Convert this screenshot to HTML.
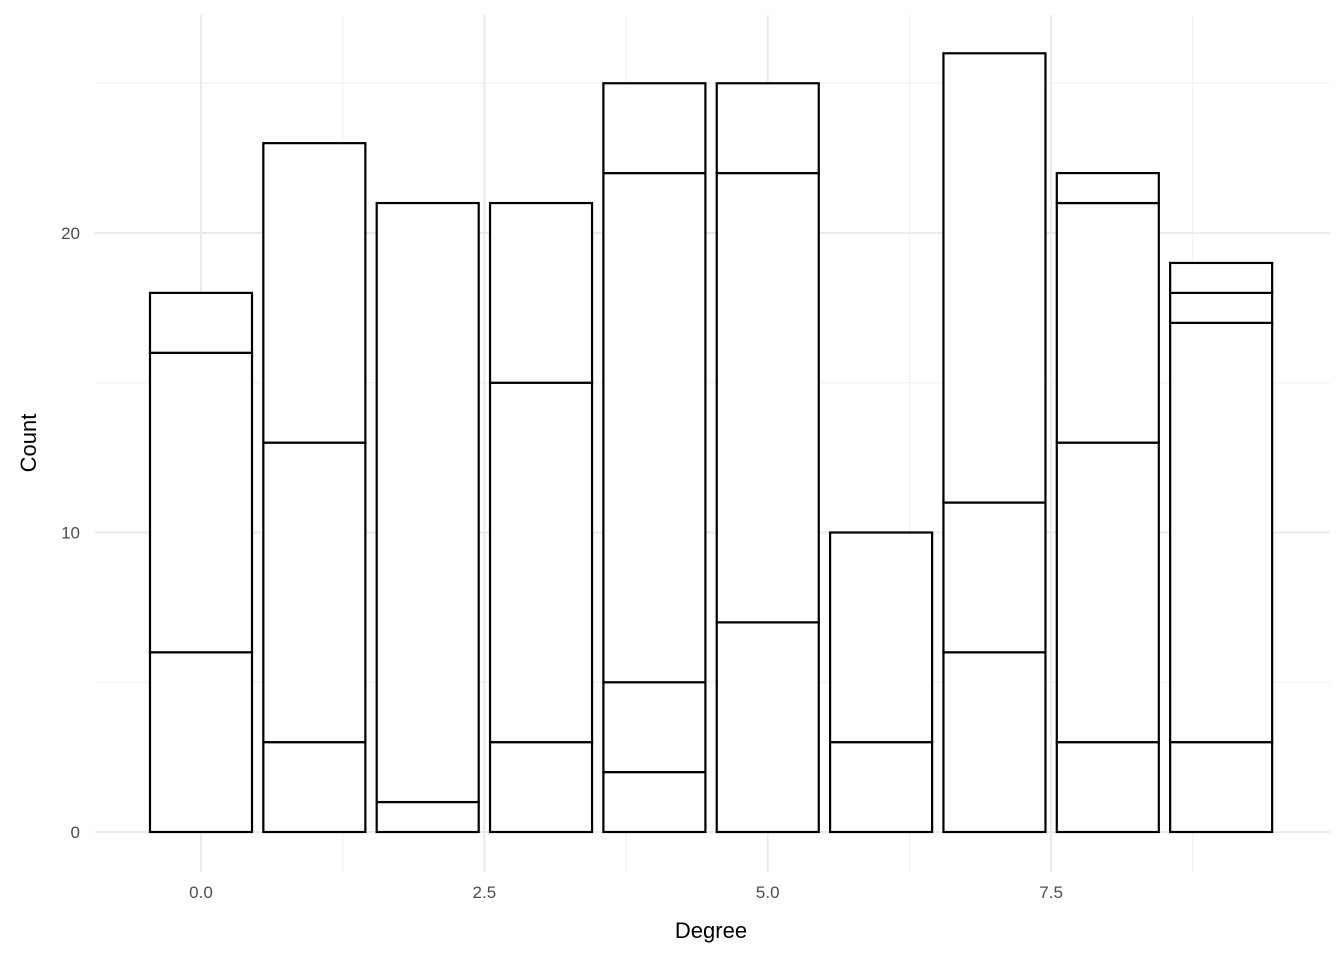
<!DOCTYPE html>
<html><head><meta charset="utf-8"><style>
body{margin:0;background:#fff}
svg{display:block;font-family:"Liberation Sans","DejaVu Sans",sans-serif}
</style></head><body>
<svg id="chart" width="1344" height="960" viewBox="0 0 1344 960">
<g id="grid"></g>
<g id="bars"></g>
<g id="axes"></g>
<text x="711" y="938" text-anchor="middle" font-size="22" fill="#000">Degree</text>
<text transform="translate(36,443) rotate(-90)" text-anchor="middle" font-size="22" fill="#000">Count</text>
</svg>
<script>
const categories = [0,1,2,3,4,5,6,7,8,9];
const segments = [[6,10,2],[3,10,10],[1,20],[3,12,6],[2,3,17,3],[7,15,3],[3,7],[6,5,15],[3,10,8,1],[3,14,1,1]];
const xTicks = [0,2.5,5,7.5];
const xTickLabels = ["0.0","2.5","5.0","7.5"];
const yTicks = [0,10,20];
const yTickLabels = ["0","10","20"];
const xMinor = [1.25,3.75,6.25,8.75];
const yMinor = [5,15,25];

const NS="http://www.w3.org/2000/svg";
const x = v => 201 + v*113.35;
const y = v => 832 - v*29.95;
const L=95,R=1330,T=15,B=872;
function mk(tag,attrs,parent){const e=document.createElementNS(NS,tag);for(const k in attrs)e.setAttribute(k,attrs[k]);parent.appendChild(e);return e;}
const grid=document.getElementById('grid'),bars=document.getElementById('bars'),axes=document.getElementById('axes');
xMinor.forEach(v=>{const l=mk('line',{x1:x(v),x2:x(v),y1:T,y2:B,stroke:'#f1f1f1','stroke-width':1.2},grid);

});
yMinor.forEach(v=>{const l=mk('line',{x1:L,x2:R,y1:y(v),y2:y(v),stroke:'#f1f1f1','stroke-width':1.2},grid);

});
xTicks.forEach((v,i)=>{const l=mk('line',{x1:x(v),x2:x(v),y1:T,y2:B,stroke:'#ebebeb','stroke-width':2},grid);


const t=mk('text',{x:x(v),y:898,'text-anchor':'middle','font-size':17,fill:'#4d4d4d'},axes);t.textContent=xTickLabels[i];

});
yTicks.forEach((v,i)=>{const l=mk('line',{x1:L,x2:R,y1:y(v),y2:y(v),stroke:'#ebebeb','stroke-width':2},grid);


const t=mk('text',{x:80,y:y(v)+6,'text-anchor':'end','font-size':17,fill:'#4d4d4d'},axes);t.textContent=yTickLabels[i];

});
categories.forEach((c,i)=>{let cum=0;const x0=x(c-0.45),w=x(c+0.45)-x0;
segments[i].forEach(s=>{const r=mk('rect',{x:x0,y:y(cum+s),width:w,height:y(cum)-y(cum+s),fill:'#fff',stroke:'#000','stroke-width':2.2},bars);


cum+=s;});});
</script>
</body></html>
